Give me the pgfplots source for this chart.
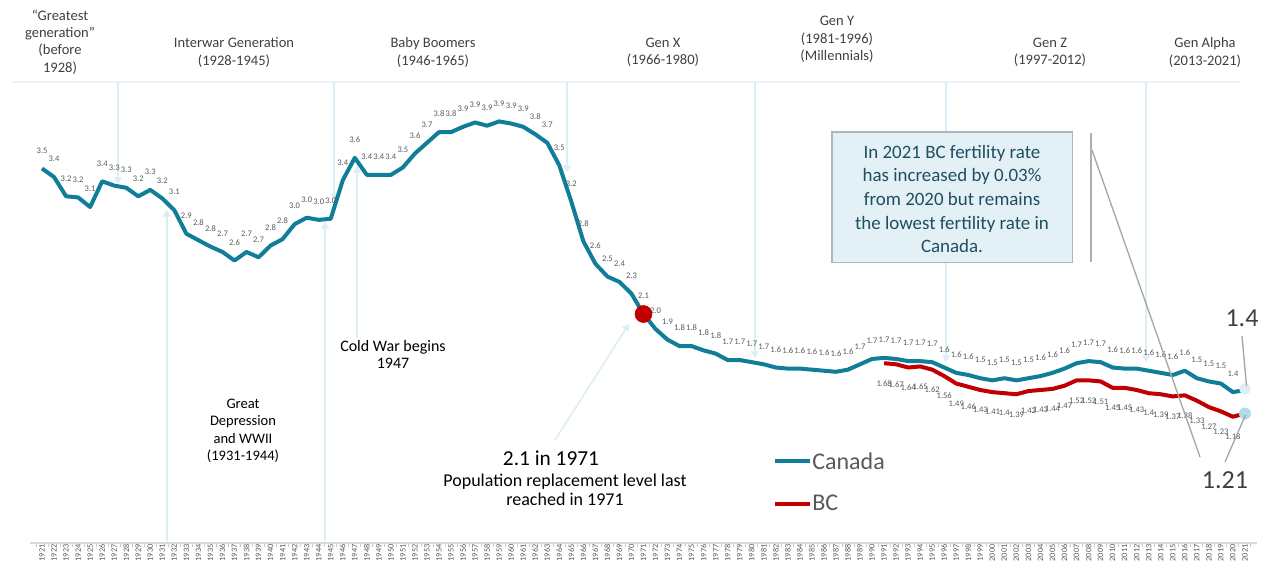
\documentclass[border=0pt]{standalone}
\usepackage{fontspec}
\setmainfont{Carlito}
\usepackage{pgfplots}
\usepackage{pgfplotstable}
\pgfplotsset{compat=1.18}
\usetikzlibrary{arrows.meta}

\definecolor{canteal}{HTML}{107E98}
\definecolor{bcred}{HTML}{C00000}
\definecolor{lblgray}{HTML}{595959}
\definecolor{txtdark}{HTML}{404040}
\definecolor{palearrow}{HTML}{DCEEF5}
\definecolor{boxfill}{HTML}{E3F1F6}
\definecolor{boxdraw}{HTML}{A8B8BE}
\definecolor{boxtext}{HTML}{1F4E5F}
\definecolor{callgray}{HTML}{A6A6A6}

\pgfplotstableread{
year val
1921 3.50
1922 3.42
1923 3.24
1924 3.23
1925 3.14
1926 3.38
1927 3.34
1928 3.32
1929 3.24
1930 3.30
1931 3.22
1932 3.11
1933 2.89
1934 2.83
1935 2.77
1936 2.72
1937 2.64
1938 2.72
1939 2.67
1940 2.78
1941 2.84
1942 2.98
1943 3.04
1944 3.02
1945 3.03
1946 3.39
1947 3.60
1948 3.44
1949 3.44
1950 3.44
1951 3.51
1952 3.64
1953 3.74
1954 3.84
1955 3.84
1956 3.89
1957 3.93
1958 3.90
1959 3.94
1960 3.92
1961 3.89
1962 3.82
1963 3.74
1964 3.53
1965 3.19
1966 2.82
1967 2.61
1968 2.49
1969 2.44
1970 2.33
1971 2.14
1972 2.00
1973 1.90
1974 1.84
1975 1.84
1976 1.80
1977 1.77
1978 1.71
1979 1.71
1980 1.69
1981 1.67
1982 1.64
1983 1.63
1984 1.63
1985 1.62
1986 1.61
1987 1.60
1988 1.62
1989 1.67
1990 1.72
1991 1.73
1992 1.72
1993 1.70
1994 1.70
1995 1.69
1996 1.64
1997 1.59
1998 1.57
1999 1.54
2000 1.52
2001 1.54
2002 1.52
2003 1.54
2004 1.56
2005 1.59
2006 1.63
2007 1.68
2008 1.70
2009 1.69
2010 1.64
2011 1.63
2012 1.63
2013 1.61
2014 1.59
2015 1.57
2016 1.61
2017 1.54
2018 1.51
2019 1.49
2020 1.41
2021 1.43
}\canada

\pgfplotstableread{
year val
1991 1.68
1992 1.67
1993 1.64
1994 1.65
1995 1.62
1996 1.56
1997 1.49
1998 1.46
1999 1.43
2000 1.41
2001 1.40
2002 1.39
2003 1.42
2004 1.43
2005 1.44
2006 1.47
2007 1.52
2008 1.52
2009 1.51
2010 1.45
2011 1.45
2012 1.43
2013 1.40
2014 1.39
2015 1.37
2016 1.38
2017 1.33
2018 1.27
2019 1.23
2020 1.18
2021 1.21
}\bc

\begin{document}
\begin{tikzpicture}
% background pale arrows (pixel coordinates)
\begin{scope}[x=0.75pt,y=-0.75pt,shift={(-22.5pt,407.25pt)}]
\tikzset{parr/.style={draw=palearrow, line width=1.2pt, -{Triangle[width=6pt,length=5pt]}}}
\draw[draw={rgb,255:red,236;green,244;blue,247}, line width=1pt] (13,82) -- (1240,82);
\draw[parr] (118,82) -- (118,184);
\draw[parr] (334,82) -- (334,200);
\draw[parr] (567,82) -- (567,172);
\draw[parr] (755,82) -- (755,358);
\draw[parr] (946,82) -- (946,362);
\draw[parr] (1146,82) -- (1146,362);
\draw[parr] (166.7,541) -- (166.7,210);
\draw[parr] (325,541) -- (325,222);
\draw[parr] (357,338) -- (357,166);
\draw[parr] (555,440) -- (629,324);
\end{scope}

\begin{axis}[
  at={(0,0)}, anchor=south west,
  scale only axis, width=920.25pt, height=401.25pt,
  xmin=1920, xmax=2022, ymin=0, ymax=5,
  clip=false,
  axis x line*=bottom, hide y axis,
  axis line style={draw=black!15, line width=1.5pt},
  xtick={1921,...,2021},
  minor xtick={1920.5,1921.5,...,2021.5},
  major tick length=0pt, minor tick length=3pt,
  tick align=outside,
  tick style={draw=black!20, line width=0.6pt},
  xticklabel={\pgfmathprintnumber[fixed,precision=0,1000 sep={},assume math mode=true]{\tick}},
  xticklabel style={rotate=90, anchor=east, font=\fontsize{6.2}{7}\selectfont, text=lblgray, inner sep=1pt},
]
\addplot[canteal, line width=3pt, line join=round] table[x=year,y=val] {\canada};
\addplot[bcred, line width=3pt, line join=round] table[x=year,y=val] {\bc};
\addplot[draw=none, restrict x to domain=1920:2020.5, point meta=y,
  nodes near coords={\pgfmathprintnumber[fixed,fixed zerofill,precision=1,assume math mode=true]{\pgfplotspointmeta}},
  every node near coord/.append style={font=\fontsize{6.4}{7}\selectfont, text=lblgray, anchor=center, yshift=13.5pt, inner sep=0pt}]
  table[x=year,y=val] {\canada};
\addplot[draw=none, restrict x to domain=1990:2020.5, point meta=y,
  nodes near coords={\pgfmathprintnumber[fixed,precision=2,assume math mode=true]{\pgfplotspointmeta}},
  every node near coord/.append style={font=\fontsize{6.4}{7}\selectfont, text=lblgray, anchor=center, yshift=-15pt, inner sep=0pt}]
  table[x=year,y=val] {\bc};
\addplot[only marks, mark=*, mark size=6.4pt, bcred] coordinates {(1971,2.14)};
\addplot[only marks, mark=*, mark size=4.1pt, color={rgb,255:red,220;green,238;blue,246}] coordinates {(2021,1.44)};
\addplot[only marks, mark=*, mark size=4.3pt, color={rgb,255:red,180;green,218;blue,234}] coordinates {(2021,1.21)};
\end{axis}

% foreground annotations (pixel coordinates)
\begin{scope}[x=0.75pt,y=-0.75pt,shift={(-22.5pt,407.25pt)}]
\tikzset{gen/.style={align=center, text=txtdark, font=\fontsize{10.9}{13.1}\selectfont, inner sep=0pt}}
\node[gen] at (60,42) {“Greatest\\generation”\\(before\\1928)};
\node[gen] at (234,52.5) {Interwar Generation\\(1928-1945)};
\node[gen] at (433,52.5) {Baby Boomers\\(1946-1965)};
\node[gen] at (663,52.5) {Gen X\\(1966-1980)};
\node[gen] at (837,39.5) {Gen Y\\(1981-1996)\\(Millennials)};
\node[gen] at (1050,52.5) {Gen Z\\(1997-2012)};
\node[gen] at (1205,52.5) {Gen Alpha\\(2013-2021)};

\node[gen, text=black, font=\fontsize{12}{13}\selectfont] at (393,354.5) {Cold War begins\\1947};
\node[gen, text=black] at (243,431) {Great\\Depression\\and WWII\\(1931-1944)};
\node[align=center, text=black, font=\fontsize{16}{18}\selectfont, inner sep=0pt] at (551,458) {2.1 in 1971};
\node[gen, text=black, font=\fontsize{13.5}{14.3}\selectfont] at (565,489.5) {Population replacement level last\\reached in 1971};

% text box
\draw[boxdraw, fill=boxfill, line width=1.2pt] (831.7,132.3) rectangle (1072.3,262.7);
\node[align=center, text=boxtext, font=\fontsize{14.2}{17.8}\selectfont, inner sep=0pt] at (952,199) {In 2021 BC fertility rate\\has increased by 0.03\%\\from 2020 but remains\\the lowest fertility rate in\\Canada.};
\draw[draw={rgb,255:red,165;green,177;blue,181}, line width=2pt] (1091,133) -- (1091,262);

% callout lines
\draw[callgray, line width=1pt] (1092,150) -- (1200,457);
\draw[callgray, line width=1pt] (1242,336) -- (1246.5,386);
\draw[callgray, line width=1pt] (1225,462) -- (1245.5,415);
\node[text=txtdark, font=\fontsize{19.5}{22}\selectfont, inner sep=0pt] at (1242,318) {1.4};
\node[text=txtdark, font=\fontsize{19.5}{22}\selectfont, inner sep=0pt] at (1225,480) {1.21};

% legend
\draw[canteal, line width=3pt] (775,461) -- (810,461);
\node[anchor=west, text=lblgray, font=\fontsize{18}{20}\selectfont, inner sep=0pt] at (812,461) {Canada};
\draw[bcred, line width=3pt] (775,504) -- (810,504);
\node[anchor=west, text=lblgray, font=\fontsize{18}{20}\selectfont, inner sep=0pt] at (812,503) {BC};

\pgfresetboundingbox
\path[use as bounding box] (0,0) rectangle (1265,567);
\end{scope}
\end{tikzpicture}
\end{document}
